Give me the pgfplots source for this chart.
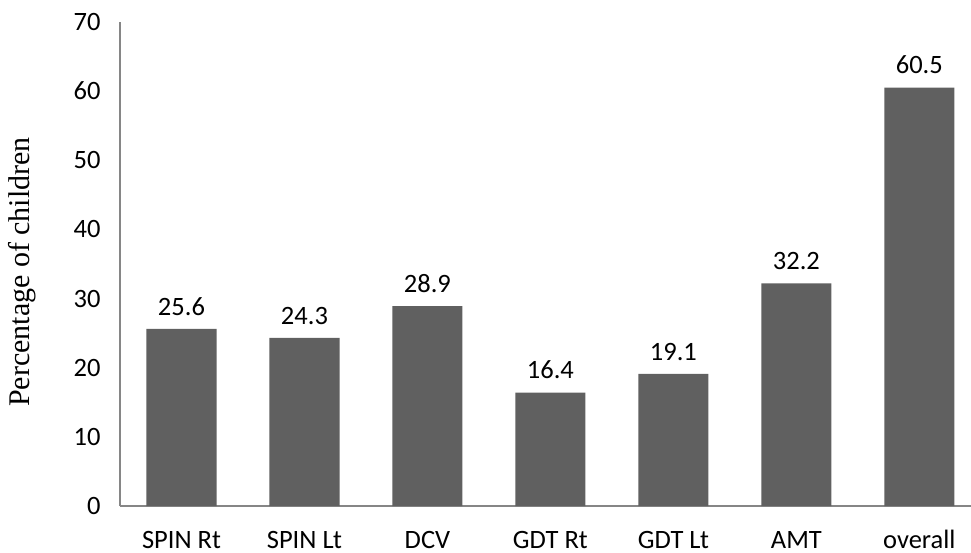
\documentclass[border=0pt]{standalone}
\usepackage{fontspec}
\setmainfont{Carlito}
\newfontfamily\timesfont{Liberation Serif}
\usepackage{pgfplots}
\pgfplotsset{compat=1.18}
\definecolor{barcol}{RGB}{96,96,96}
\definecolor{axcol}{RGB}{134,134,134}
\begin{document}
\begin{tikzpicture}
\begin{axis}[
  scale only axis,
  width=851bp, height=484bp,
  xmin=-0.5, xmax=6.42,
  ymin=0, ymax=70,
  ytick={0,10,...,70},
  xtick={0,...,6},
  xticklabels={SPIN Rt,SPIN Lt,DCV,GDT Rt,GDT Lt,AMT,overall},
  axis lines=left,
  axis line style={-, draw=axcol, line width=1.3bp},
  major tick length=0,
  tick label style={font=\fontsize{26.5bp}{31bp}\selectfont},
  yticklabel style={xshift=-16bp},
  xticklabel style={anchor=base, yshift=-42bp},
  /pgf/number format/assume math mode=true,
  ylabel={Percentage of children},
  every axis y label/.style={at={(axis description cs:0,0.5)}, xshift=-98bp, yshift=-8bp, rotate=90, anchor=center, font=\timesfont\fontsize{30bp}{35bp}\selectfont},
  nodes near coords,
  nodes near coords style={font=\fontsize{26.5bp}{31bp}\selectfont, yshift=10bp, /pgf/number format/fixed, /pgf/number format/fixed zerofill, /pgf/number format/precision=1, /pgf/number format/assume math mode=true},
  clip=false,
]
\addplot[ybar, bar width=0.57, fill=barcol, draw=none] coordinates {
  (0,25.6) (1,24.3) (2,28.9) (3,16.4) (4,19.1) (5,32.2) (6,60.5)
};
\coordinate (sw) at (rel axis cs:0,0);
\coordinate (ne) at (rel axis cs:1,1);
\end{axis}
\pgfresetboundingbox
\path[use as bounding box] ([shift={(-120bp,-47bp)}]sw) rectangle ([yshift=22bp]ne);
\end{tikzpicture}
\end{document}
